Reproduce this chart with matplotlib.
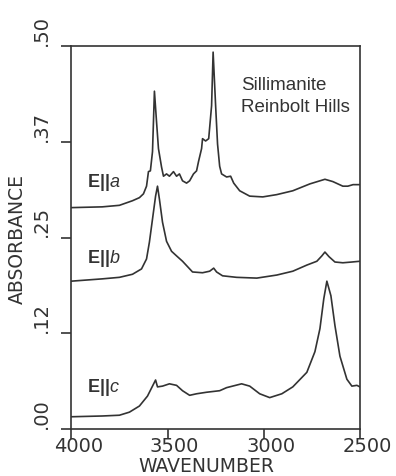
import matplotlib
matplotlib.use('Agg')
import matplotlib.pyplot as plt
import matplotlib.transforms as mtransforms

# wavenumber (cm-1) / absorbance
wn_a = [4000, 3839, 3750, 3682, 3646, 3625, 3609, 3599, 3589, 3578, 3573, 3568,
        3557, 3547, 3531, 3521, 3505, 3490, 3469, 3453, 3438, 3422, 3401, 3385,
        3365, 3349, 3339, 3323, 3318, 3302, 3286, 3271, 3263, 3250, 3240, 3229,
        3219, 3193, 3172, 3156, 3125, 3073, 3005, 2932, 2849, 2760, 2682, 2641,
        2589, 2563, 2536, 2500]
abs_a = [0.289, 0.290, 0.292, 0.298, 0.302, 0.307, 0.317, 0.336, 0.337, 0.362,
         0.401, 0.441, 0.401, 0.366, 0.342, 0.330, 0.333, 0.330, 0.336, 0.330,
         0.333, 0.324, 0.321, 0.324, 0.333, 0.337, 0.349, 0.366, 0.379, 0.376,
         0.379, 0.422, 0.492, 0.422, 0.372, 0.343, 0.333, 0.329, 0.330, 0.321,
         0.311, 0.304, 0.303, 0.306, 0.311, 0.320, 0.326, 0.323, 0.317, 0.317,
         0.319, 0.319]

wn_b = [4000, 3839, 3750, 3682, 3635, 3609, 3594, 3578, 3562, 3552, 3542, 3526,
        3505, 3479, 3453, 3422, 3396, 3370, 3318, 3281, 3260, 3245, 3214, 3141,
        3036, 2932, 2849, 2776, 2724, 2698, 2682, 2661, 2630, 2589, 2542, 2500]
abs_b = [0.193, 0.196, 0.198, 0.202, 0.209, 0.222, 0.244, 0.274, 0.304, 0.317,
         0.300, 0.270, 0.245, 0.232, 0.226, 0.219, 0.212, 0.205, 0.204, 0.206,
         0.210, 0.205, 0.200, 0.198, 0.197, 0.201, 0.206, 0.214, 0.219, 0.226,
         0.231, 0.225, 0.218, 0.217, 0.218, 0.219]

wn_c = [4000, 3839, 3750, 3698, 3646, 3604, 3578, 3562, 3552, 3526, 3490, 3453,
        3422, 3385, 3349, 3297, 3229, 3193, 3115, 3073, 3021, 2969, 2906, 2849,
        2776, 2734, 2708, 2688, 2672, 2651, 2630, 2604, 2568, 2542, 2516, 2500]
abs_c = [0.016, 0.017, 0.018, 0.022, 0.030, 0.043, 0.056, 0.064, 0.055, 0.056,
         0.059, 0.057, 0.050, 0.044, 0.046, 0.048, 0.050, 0.054, 0.059, 0.056,
         0.046, 0.041, 0.046, 0.055, 0.074, 0.101, 0.131, 0.170, 0.193, 0.174,
         0.135, 0.095, 0.065, 0.056, 0.057, 0.055]

# polarisation label and its baseline height
curves = [(wn_a, abs_a, 'a', 0.317), (wn_b, abs_b, 'b', 0.218), (wn_c, abs_c, 'c', 0.050)]

yticks = [0, 0.125, 0.25, 0.375, 0.5]
ytick_labels = ['.00', '.12', '.25', '.37', '.50']
xticks = [4000, 3500, 3000, 2500]

plt.rcParams['mathtext.fontset'] = 'custom'
plt.rcParams['mathtext.rm'] = 'Liberation Sans'
plt.rcParams['mathtext.it'] = 'Liberation Sans:italic'
plt.rcParams['mathtext.bf'] = 'Liberation Sans:bold'

ink = '#333333'
fig = plt.figure(figsize=(3.96, 4.77), dpi=100)
ax = fig.add_axes([0.18, 0.0985, 0.729, 0.803])

for wn, ab, pol, ylab in curves:
    ax.plot(wn, ab, color=ink, lw=1.2)
    ax.text(3917, ylab, r'$\mathbf{E||}\mathit{' + pol + '}$', fontsize=13,
            color=ink, va='baseline', ha='left')

ax.text(3120, 0.444, 'Sillimanite', family='Liberation Sans', fontsize=13.5,
        color=ink, va='baseline')
ax.text(3120, 0.415, 'Reinbolt Hills', family='Liberation Sans', fontsize=13.5,
        color=ink, va='baseline')

ax.set_xlim(4000, 2500)
ax.set_ylim(0, 0.5)
ax.set_xticks(xticks)
ax.set_xticklabels([str(t) for t in xticks], fontsize=14, color=ink)
ax.set_yticks(yticks)
ax.set_yticklabels(ytick_labels, fontsize=14, color=ink, rotation=90, va='bottom')
ax.tick_params(direction='out', length=7, width=1.2, color=ink)
ax.tick_params(axis='x', pad=-2)
ax.tick_params(axis='y', pad=8)
for s in ax.spines.values():
    s.set_linewidth(1.2)
    s.set_color(ink)

# plotter labels sit a bit off the ticks
dx = mtransforms.ScaledTranslation(7 / 100, 0, fig.dpi_scale_trans)
for lab in ax.get_xticklabels():
    lab.set_transform(lab.get_transform() + dx)
dy = mtransforms.ScaledTranslation(0, 1 / 100, fig.dpi_scale_trans)
for lab in ax.get_yticklabels():
    lab.set_transform(lab.get_transform() + dy)

fig.text(206 / 396, 5 / 477, 'WAVENUMBER', fontsize=13.5, color=ink,
         ha='center', va='baseline')
fig.text(17 / 396, 0.5, 'ABSORBANCE', fontsize=13.5, color=ink,
         ha='center', va='center', rotation=90)

fig.savefig('out.png', dpi=100)
